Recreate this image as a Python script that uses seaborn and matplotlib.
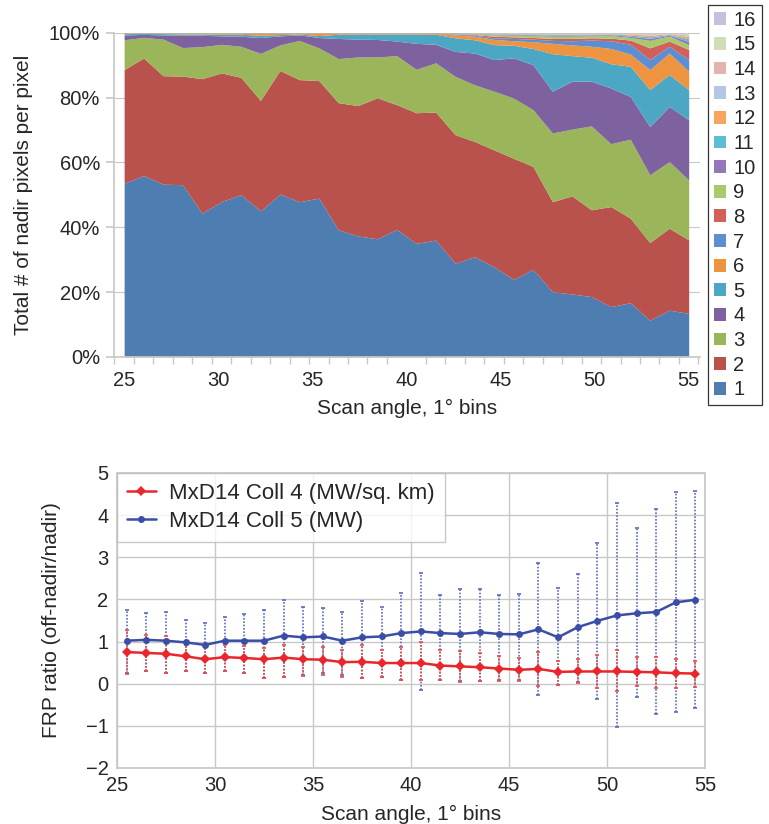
import numpy as np
import pandas as pd
import matplotlib
matplotlib.use("Agg")
import matplotlib.pyplot as plt
from matplotlib.patches import Patch
import seaborn as sns

sns.set_theme(style="white")
plt.rcParams['font.family'] = ['Liberation Sans', 'DejaVu Sans']

# ---------------------------
# Top panel: share of nadir pixels per off-nadir pixel (30 bins, 25-55 deg)
# ---------------------------
n1 = [53.6, 56.0, 53.3, 53.1, 44.3, 47.9, 50.0, 45.0, 50.3, 47.9, 49.0, 39.2, 37.3, 36.4, 39.3,
      35.0, 36.0, 28.9, 30.9, 27.8, 23.9, 27.0, 20.1, 19.4, 18.6, 15.5, 16.7, 11.3, 14.4, 13.4]
n2 = [35.1, 36.3, 33.5, 33.5, 41.5, 39.7, 36.1, 34.1, 38.2, 37.7, 36.3, 39.2, 40.2, 43.5, 38.5,
      40.3, 39.5, 39.7, 35.6, 36.1, 37.4, 31.8, 27.8, 30.3, 26.8, 30.9, 26.1, 24.0, 25.3, 22.7]
n3 = [9.2, 6.4, 11.3, 8.8, 9.9, 8.8, 9.6, 14.5, 7.9, 12.1, 10.1, 13.6, 15.0, 12.6, 15.1,
      13.4, 15.2, 18.0, 17.5, 18.1, 18.6, 17.5, 21.2, 20.6, 25.9, 19.4, 24.4, 20.9, 20.6, 18.5]
n4 = [1.5, 0.9, 1.3, 3.8, 3.5, 2.6, 3.1, 4.9, 2.8, 1.7, 3.2, 6.2, 5.5, 5.4, 4.5,
      8.0, 5.7, 7.7, 9.8, 9.8, 12.4, 13.9, 12.9, 14.8, 13.8, 17.2, 13.2, 14.9, 17.0, 18.6]
n5 = [0.4, 0.3, 0.4, 0.4, 0.4, 0.5, 0.6, 0.7, 0.4, 0.3, 0.6, 1.3, 1.6, 1.7, 2.2,
      2.9, 3.1, 4.2, 4.1, 4.6, 3.9, 5.0, 11.6, 7.9, 7.4, 7.5, 9.3, 11.4, 9.9, 9.3]
n6 = [0.1, 0.05, 0.1, 0.2, 0.2, 0.3, 0.3, 0.6, 0.4, 0.2, 0.7, 0.3, 0.2, 0.2, 0.2,
      0.2, 0.3, 0.9, 1.1, 1.6, 1.4, 2.1, 3.2, 3.3, 3.4, 4.7, 3.8, 6.2, 6.6, 5.7]
n7 = [0.02, 0.02, 0.02, 0.02, 0.02, 0.02, 0.02, 0.02, 0.02, 0.02, 0.02, 0.02, 0.02, 0.02, 0.02,
      0.02, 0.02, 0.2, 0.3, 0.5, 0.7, 0.8, 0.9, 1.3, 1.9, 2.4, 3.0, 3.1, 2.1, 3.6]
n8 = [0.02, 0.02, 0.02, 0.02, 0.02, 0.02, 0.02, 0.02, 0.02, 0.02, 0.02, 0.02, 0.02, 0.02, 0.02,
      0.02, 0.02, 0.15, 0.2, 0.5, 0.5, 0.5, 0.6, 0.7, 0.7, 0.8, 1.3, 3.6, 1.6, 3.1]
n9 = [0.02, 0.02, 0.02, 0.02, 0.02, 0.02, 0.02, 0.02, 0.02, 0.02, 0.02, 0.02, 0.02, 0.02, 0.02,
      0.02, 0.02, 0.1, 0.2, 0.4, 0.5, 0.6, 0.7, 0.7, 0.6, 0.8, 0.8, 2.3, 1.5, 1.5]
n10 = [0.01, 0.01, 0.01, 0.01, 0.01, 0.01, 0.01, 0.01, 0.01, 0.01, 0.01, 0.01, 0.01, 0.01, 0.01,
       0.01, 0.01, 0.05, 0.1, 0.2, 0.2, 0.25, 0.3, 0.3, 0.3, 0.25, 0.4, 0.6, 0.3, 1.0]
n11 = [0.01, 0.01, 0.01, 0.01, 0.01, 0.01, 0.01, 0.01, 0.01, 0.01, 0.01, 0.01, 0.01, 0.01, 0.01,
       0.01, 0.01, 0.04, 0.08, 0.15, 0.2, 0.2, 0.25, 0.25, 0.2, 0.2, 0.35, 0.5, 0.25, 0.8]
n12 = [0.01, 0.01, 0.01, 0.01, 0.01, 0.01, 0.01, 0.01, 0.01, 0.01, 0.01, 0.01, 0.01, 0.01, 0.01,
       0.01, 0.01, 0.03, 0.06, 0.1, 0.12, 0.15, 0.2, 0.2, 0.15, 0.15, 0.3, 0.5, 0.2, 0.7]
n13 = [0.005, 0.005, 0.005, 0.005, 0.005, 0.005, 0.005, 0.005, 0.005, 0.005, 0.005, 0.005, 0.005, 0.005, 0.005,
       0.005, 0.005, 0.02, 0.03, 0.07, 0.08, 0.1, 0.12, 0.12, 0.1, 0.1, 0.15, 0.3, 0.1, 0.5]
n14 = [0.005, 0.005, 0.005, 0.005, 0.005, 0.005, 0.005, 0.005, 0.005, 0.005, 0.005, 0.005, 0.005, 0.005, 0.005,
       0.005, 0.005, 0.01, 0.02, 0.05, 0.05, 0.05, 0.08, 0.08, 0.08, 0.05, 0.1, 0.2, 0.08, 0.3]
n15 = [0.003, 0.003, 0.003, 0.003, 0.003, 0.003, 0.003, 0.003, 0.003, 0.003, 0.003, 0.003, 0.003, 0.003, 0.003,
       0.003, 0.003, 0.0, 0.01, 0.02, 0.03, 0.03, 0.03, 0.03, 0.05, 0.03, 0.06, 0.1, 0.05, 0.2]
n16 = [0.002, 0.002, 0.002, 0.002, 0.002, 0.002, 0.002, 0.002, 0.002, 0.002, 0.002, 0.002, 0.002, 0.002, 0.002,
       0.002, 0.002, 0.0, 0.0, 0.01, 0.02, 0.02, 0.02, 0.02, 0.02, 0.02, 0.04, 0.1, 0.02, 0.1]

layers = [n1, n2, n3, n4, n5, n6, n7, n8, n9, n10, n11, n12, n13, n14, n15, n16]
layer_names = [str(k) for k in range(1, 17)]
layer_colors = ['#4E7DB2', '#B9514C', '#9AB55A', '#7E62A0', '#4BA7C4', '#EE933F',
                '#5B8FD1', '#D2605A', '#A9C96A', '#9479B8', '#5BBDD6', '#F8A55C',
                '#B4C6E2', '#E3B3B1', '#CFDFB5', '#C9BEDB']
top_xlabels = [25, 30, 35, 40, 45, 50, 55]

# ---------------------------
# Bottom panel: FRP ratio per 1 deg bin
# ---------------------------
scan_angle = [25.5, 26.5, 27.5, 28.5, 29.5, 30.5, 31.5, 32.5, 33.5, 34.5, 35.5, 36.5, 37.5, 38.5, 39.5,
              40.5, 41.5, 42.5, 43.5, 44.5, 45.5, 46.5, 47.5, 48.5, 49.5, 50.5, 51.5, 52.5, 53.5, 54.5]
c4_mean = [0.75, 0.73, 0.71, 0.65, 0.58, 0.63, 0.61, 0.58, 0.62, 0.58, 0.57, 0.51, 0.52, 0.49, 0.49,
           0.49, 0.43, 0.41, 0.39, 0.36, 0.33, 0.35, 0.28, 0.29, 0.29, 0.29, 0.28, 0.27, 0.25, 0.24]
c4_high = [1.28, 1.16, 1.12, 0.92, 0.87, 0.92, 0.90, 0.84, 0.92, 0.88, 0.88, 0.81, 0.92, 0.79, 0.88,
           1.00, 0.79, 0.77, 0.73, 0.65, 0.61, 0.74, 0.53, 0.58, 0.69, 0.79, 0.63, 0.63, 0.58, 0.54]
c4_low = [0.24, 0.29, 0.25, 0.29, 0.25, 0.29, 0.25, 0.13, 0.16, 0.19, 0.21, 0.17, 0.13, 0.16, 0.08,
          0.09, 0.09, 0.03, 0.06, 0.06, 0.06, -0.06, -0.02, 0.02, -0.10, -0.18, -0.06, -0.10, -0.10, -0.08]
c5_mean = [1.02, 1.04, 1.02, 0.98, 0.92, 1.02, 1.02, 1.02, 1.14, 1.10, 1.12, 1.02, 1.10, 1.12, 1.20,
           1.24, 1.20, 1.18, 1.22, 1.18, 1.17, 1.29, 1.10, 1.34, 1.49, 1.62, 1.67, 1.70, 1.93, 1.99]
c5_high = [1.74, 1.67, 1.71, 1.50, 1.45, 1.58, 1.65, 1.75, 1.99, 1.83, 1.79, 1.69, 1.97, 1.83, 2.15,
           2.62, 2.11, 2.24, 2.24, 2.10, 2.13, 2.87, 2.27, 2.60, 3.35, 4.28, 3.69, 4.14, 4.54, 4.57]
c5_low = [0.25, 0.29, 0.25, 0.29, 0.25, 0.29, 0.25, 0.13, 0.17, 0.21, 0.25, 0.21, 0.13, 0.17, 0.09,
          -0.14, 0.09, 0.06, 0.06, 0.09, 0.09, -0.28, -0.02, 0.03, -0.36, -1.03, -0.32, -0.71, -0.67, -0.58]

fig = plt.figure(figsize=(7.69, 8.24), dpi=100)
grid_col = '#C8C8C8'

# ----- top: 100% stacked area -----
ax1 = fig.add_axes([0.148, 0.567, 0.762, 0.393])
idx = np.arange(len(n1))
stack = np.array(layers, dtype=float)
stack = stack / stack.sum(axis=0) * 100
for yv in [20, 40, 60, 80, 100]:
    ax1.axhline(yv, color=grid_col, lw=0.8, zorder=0)
ax1.stackplot(idx, stack, colors=layer_colors, lw=0, zorder=2)
ax1.set_xlim(-0.53, 29.57)
ax1.set_ylim(0, 100)
ax1.set_xticks(np.linspace(0, 29, 7))
ax1.set_xticklabels([str(v) for v in top_xlabels])
ax1.set_xticks(np.arange(-0.5, 30, 1), minor=True)
ax1.set_yticks([0, 20, 40, 60, 80, 100])
ax1.set_yticklabels([f'{v}%' for v in [0, 20, 40, 60, 80, 100]])
ax1.tick_params(axis='both', which='both', direction='out', color=grid_col, labelsize=14.5,
                bottom=True, left=True)
ax1.tick_params(axis='x', which='major', length=0, pad=10)
ax1.tick_params(axis='x', which='minor', length=5)
ax1.tick_params(axis='y', length=6, pad=4)
for s in ['top', 'right']:
    ax1.spines[s].set_visible(False)
for s in ['left', 'bottom']:
    ax1.spines[s].set_color(grid_col)
ax1.set_xlabel('Scan angle, 1° bins', fontsize=15, labelpad=7)
ax1.set_ylabel('Total # of nadir pixels per pixel', fontsize=15, labelpad=11)

handles = [Patch(facecolor=c, edgecolor='none') for c in layer_colors]
leg1 = ax1.legend(handles[::-1], layer_names[::-1], loc='upper left', bbox_to_anchor=(1.014, 1.087),
                  frameon=True, fancybox=False, fontsize=14.5, handlelength=0.6, handleheight=0.6,
                  handletextpad=0.35, labelspacing=0.28, borderpad=0.3, borderaxespad=0)
leg1.get_frame().set_edgecolor('black')
leg1.get_frame().set_linewidth(0.9)

# ----- bottom: FRP ratio with error bars -----
ax2 = fig.add_axes([0.152, 0.068, 0.765, 0.358])
frp = pd.DataFrame({
    'angle': scan_angle * 2,
    'ratio': c4_mean + c5_mean,
    'series': ['MxD14 Coll 4 (MW/sq. km)'] * len(c4_mean) + ['MxD14 Coll 5 (MW)'] * len(c5_mean),
})
red = '#E8262B'
blue = '#3A4EA6'

eb5 = ax2.errorbar(scan_angle, c5_mean,
                   yerr=[np.array(c5_mean) - np.array(c5_low), np.array(c5_high) - np.array(c5_mean)],
                   fmt='none', ecolor='#5A6CC0', elinewidth=1.2, capsize=1.5, capthick=1.2, zorder=2)
eb5[2][0].set_linestyle((0, (1, 1)))
eb4 = ax2.errorbar(scan_angle, c4_mean,
                   yerr=[np.array(c4_mean) - np.array(c4_low), np.array(c4_high) - np.array(c4_mean)],
                   fmt='none', ecolor='#EE4A4A', elinewidth=1.2, capsize=1.5, capthick=1.2, zorder=3)
eb4[2][0].set_linestyle((0, (1, 1)))

sns.lineplot(data=frp, x='angle', y='ratio', hue='series', style='series',
             palette=[red, blue], markers=['D', 'o'], dashes=False, markersize=5,
             markeredgewidth=0, linewidth=1.8, ax=ax2, zorder=4)

ax2.set_xlim(25, 55)
ax2.set_ylim(-2, 5)
ax2.set_xticks([25, 30, 35, 40, 45, 50, 55])
ax2.set_yticks(range(-2, 6))
ax2.set_yticklabels(['\u22122', '\u22121', '0', '1', '2', '3', '4', '5'])
ax2.grid(True, color=grid_col, lw=1.0)
ax2.set_axisbelow(True)
for s in ax2.spines.values():
    s.set_color(grid_col)
ax2.tick_params(axis='both', labelsize=14.5, length=0, pad=6)
ax2.set_xlabel('Scan angle, 1° bins', fontsize=15, labelpad=7)
ax2.set_ylabel('FRP ratio (off-nadir/nadir)', fontsize=15, labelpad=18)

leg2 = ax2.legend(loc='upper left', bbox_to_anchor=(0.0, 1.0), borderaxespad=0, frameon=True,
                  fancybox=False, fontsize=16, handlelength=1.3, handletextpad=0.6,
                  borderpad=0.45, labelspacing=0.3, title=None)
leg2.get_frame().set_edgecolor('#BBBBBB')
leg2.get_frame().set_linewidth(1.0)
for h in leg2.get_lines():
    h.set_markersize(5)

fig.savefig('out.png', dpi=100)
